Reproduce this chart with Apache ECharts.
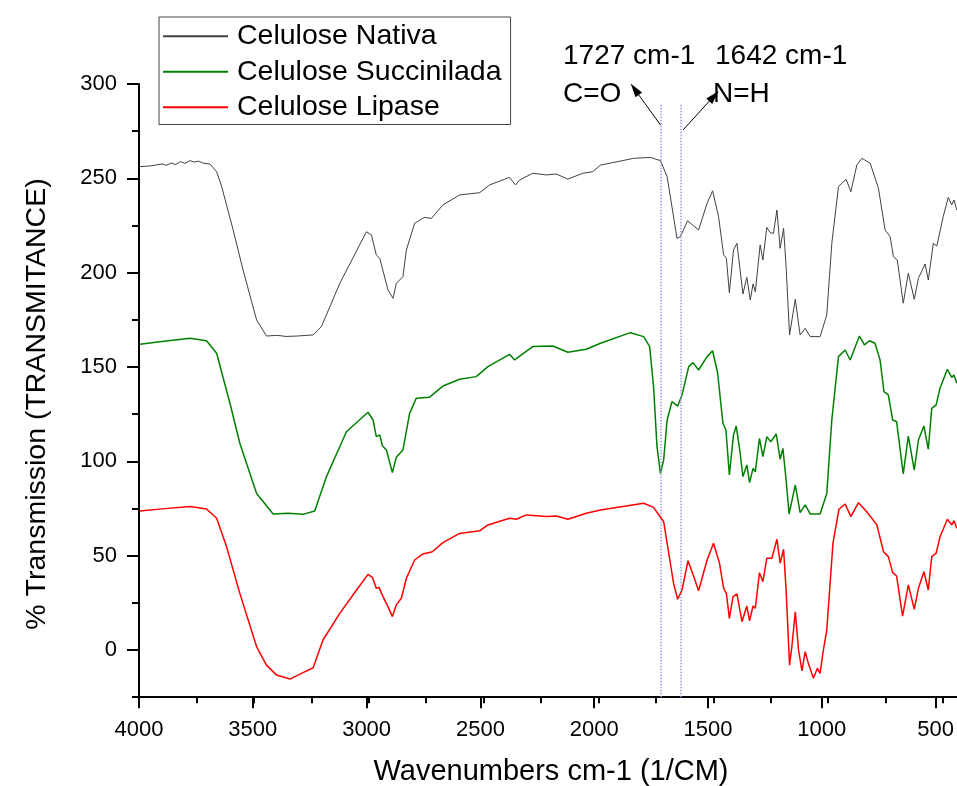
<!DOCTYPE html>
<html><head><meta charset="utf-8">
<script src="https://cdn.jsdelivr.net/npm/echarts@6/dist/echarts.min.js"></script>
<style>html,body{margin:0;padding:0;background:#fff}#c{width:957px;height:786px}</style>
</head><body><div id="c"></div>
<script>
const seriesNames = ['Celulose Nativa', 'Celulose Succinilada', 'Celulose Lipase'];
const seriesColors = ['#404040', '#008000', '#ff0000'];

const nativaX = [3996,3950,3900,3880,3860,3840,3820,3800,3778,3760,3740,3720,3691,3662,3640,3590,3547,3488,3445,3400,3360,3314,3242,3206,3126,3010,2988,2967,2952,2916,2894,2880,2851,2836,2800,2757,2727,2677,2604,2517,2474,2387,2361,2343,2286,2227,2184,2133,2068,2025,1991,1847,1774,1730,1701,1680,1658,1643,1612,1564,1527,1503,1477,1455,1443,1430,1412,1397,1371,1354,1339,1327,1317,1296,1284,1267,1252,1238,1223,1209,1194,1183,1168,1143,1122,1100,1078,1035,1006,984,955,922,901,875,853,817,781,752,730,716,699,673,651,625,607,578,564,542,527,499,477,462,452,440];
const nativaY = [256.2,256.6,257.6,256.9,258.1,257.3,258.9,257.9,259.4,258.6,259.1,258.0,257.6,253.5,245.6,222.6,201.4,174.9,166.4,166.8,166.2,166.4,167,171.4,194.3,221.7,220,209.4,207.6,190.8,186.4,194.3,197.9,212,226.2,229.3,228.8,235.9,241.2,242.4,246.5,250.5,246.5,249.1,252.7,251.8,252.3,249.6,252.7,253.5,257,260.6,261.1,259.4,250.9,235,218.2,219.1,227.5,222.6,236.8,243.4,229.7,209.4,207.6,189.4,212,215.6,188.7,197.5,185.5,194,189.9,214.7,206.7,224,221.2,220.8,233.2,212.9,223.5,203.2,167,185.9,167,170.5,166.1,166.1,177.6,215.6,245.6,249.5,242.9,257.1,260.6,258,244.7,222.6,219.1,208.5,206.7,183.8,199.7,185.9,197,204.6,196.1,215.6,214.1,229.7,239.9,235.9,238.5,233.2];

const succX = [3996,3900,3778,3706,3662,3604,3561,3488,3416,3350,3286,3235,3184,3097,3003,2981,2967,2952,2940,2923,2897,2880,2851,2822,2793,2735,2677,2604,2532,2481,2387,2365,2343,2286,2199,2133,2053,1991,1861,1803,1777,1760,1745,1730,1716,1701,1680,1655,1636,1607,1588,1564,1527,1503,1481,1458,1445,1430,1412,1400,1383,1371,1354,1342,1327,1317,1299,1284,1267,1250,1226,1209,1197,1183,1170,1143,1122,1100,1078,1035,1006,984,955,926,904,864,842,820,796,774,757,738,719,702,673,651,625,607,583,564,549,530,513,481,462,452,440];
const succY = [162,163.5,165.2,163.9,157.3,130.8,109.6,83,72.1,72.5,71.9,73.7,91.9,115.7,126,121.9,113.1,114,108.1,106,94,102.1,106,125.4,133.4,134,139.9,143.5,144.9,150.2,156.7,153.7,155.8,160.8,161.1,157.8,159.4,162.6,168.2,166.1,160.8,139.6,107.8,93.6,100.7,121.9,131.6,129.3,135.2,150.2,152.3,148.4,155.5,158.6,146.7,120.2,116.6,92.8,114,118.7,104.3,91.9,98.1,88.7,96.3,94.5,112.2,102.5,113.1,110.4,114.5,101.1,106.9,90.1,72.1,87.5,72.8,76.9,72.1,72.1,83,121.9,155.5,159,153.7,166.4,161.7,163.9,162.6,153.7,136.9,135.2,121.9,121,93.3,113.4,95.4,111.3,118.7,106.4,128.1,129.9,138.7,148.8,144.5,145.8,141.4];

const lipaseX = [3996,3900,3778,3706,3662,3619,3561,3488,3445,3401,3343,3286,3242,3199,3126,3053,3003,2984,2967,2955,2938,2916,2897,2880,2858,2836,2800,2764,2723,2677,2604,2517,2481,2387,2358,2314,2227,2184,2133,2053,1991,1803,1760,1716,1694,1673,1655,1636,1610,1585,1564,1527,1499,1473,1455,1443,1430,1414,1397,1375,1354,1342,1327,1317,1299,1284,1267,1245,1223,1209,1194,1183,1168,1158,1143,1129,1114,1100,1086,1064,1047,1035,1023,1006,979,953,926,901,868,832,788,759,738,719,702,676,651,625,607,583,564,549,530,513,481,462,452,440];
const lipaseY = [73.7,74.8,76,74.7,69.8,54.8,30,1.7,-8,-13.3,-15.4,-12,-9.4,5.3,19.4,31.8,40.1,38.5,32.7,33.2,28.3,23,17.7,23.9,27.4,38,47.7,50.9,52.1,56.9,61.8,63.2,66.3,69.8,69.3,71.6,70.7,71,69.3,72.5,74.2,77.8,75.6,68,51.3,35.4,26.9,31.8,47.3,38.9,31.4,47.7,56.6,46,32.7,30,16.8,28.3,29.7,15,23.3,15.5,23.3,22.1,41,36.2,48.6,48.6,58.7,46,53.4,31.8,-8,1.7,20.3,0,-11,-0.9,-7.1,-15,-9.7,-12.4,-1.7,10.6,56.6,74.6,77.4,70.7,78.1,73.3,66.3,52.1,49.5,41,39.2,18,34.5,21.6,32.7,41.5,31.8,49.5,51.3,60,69.3,66.3,68.5,64.5];

const peakWaves = [1727, 1642];
const peakLabels = ['1727 cm-1', '1642 cm-1'];
const groupLabels = ['C=O', 'N=H'];

const FONT = '"Liberation Sans", Arial, sans-serif';
const W = 957;
const L = 139, T = 84;
const PX = 804 / 3500;
const PY = 566 / 300;
const X_MIN = 4000 - (W - L) / PX;

function zip(xs, ys) { return xs.map((x, i) => [x, ys[i]]); }
const allData = [zip(nativaX, nativaY), zip(succX, succY), zip(lipaseX, lipaseY)];

const chart = echarts.init(document.getElementById('c'), null, {renderer: 'canvas'});

const series = seriesNames.map((name, i) => ({
  name: name, type: 'line', xAxisIndex: 0, yAxisIndex: 0,
  data: allData[i], showSymbol: false, symbol: 'none', smooth: false,
  lineStyle: {color: seriesColors[i], width: i === 0 ? 1 : 1.5},
  itemStyle: {color: seriesColors[i]},
  z: 3 + i
}));

series[0].markLine = {
  silent: true, symbol: ['none', 'none'], animation: false,
  label: {show: false},
  lineStyle: {type: 'dotted', color: '#9a9ae0', width: 1.5},
  data: peakWaves.map(w => [{coord: [w, 289]}, {coord: [w, -25]}])
};
series[1].markLine = {
  silent: true, symbol: ['none', 'triangle'], symbolSize: [8, 14], animation: false,
  label: {show: false},
  lineStyle: {type: 'solid', color: '#000', width: 1},
  itemStyle: {color: '#000'},
  data: [
    [{coord: [1730, 278.3]}, {coord: [1842, 297.2]}],
    [{coord: [1632, 275.6]}, {coord: [1497, 293.6]}]
  ]
};

const plainLabel = v => String(v);

const option = {
  animation: false,
  backgroundColor: '#fff',
  grid: [
    {left: L, top: T, right: 0, height: 325 * PY},
    {left: L, top: T, width: 3500 * PX, height: 325 * PY},
    {left: L, top: T, width: 3500 * PX, height: 300 * PY}
  ],
  xAxis: [
    {gridIndex: 0, type: 'value', min: X_MIN, max: 4000, inverse: true,
     axisLine: {onZero: false, lineStyle: {color: '#000', width: 2}},
     axisTick: {show: false}, axisLabel: {show: false}, splitLine: {show: false}},
    {gridIndex: 1, type: 'value', min: 500, max: 4000, interval: 250, inverse: true,
     axisLine: {show: false, onZero: false},
     axisTick: {length: 6, lineStyle: {color: '#000', width: 2}},
     axisLabel: {show: false}, splitLine: {show: false}},
    {gridIndex: 2, type: 'value', min: 500, max: 4000, interval: 500, inverse: true,
     offset: 25 * PY,
     axisLine: {show: false, onZero: false},
     axisTick: {length: 11, lineStyle: {color: '#000', width: 2}},
     axisLabel: {fontSize: 22, color: '#000', margin: 22, fontFamily: FONT, formatter: plainLabel, showMinLabel: true, showMaxLabel: true, hideOverlap: false},
     splitLine: {show: false}}
  ],
  yAxis: [
    {gridIndex: 0, type: 'value', min: -25, max: 300, interval: 25,
     axisLine: {onZero: false, lineStyle: {color: '#000', width: 2}},
     axisTick: {length: 7, lineStyle: {color: '#000', width: 2}},
     axisLabel: {show: false}, splitLine: {show: false}},
    {gridIndex: 1, type: 'value', min: -25, max: 300, interval: 25, show: false},
    {gridIndex: 2, type: 'value', min: 0, max: 300, interval: 50,
     axisLine: {show: false, onZero: false},
     axisTick: {length: 12, lineStyle: {color: '#000', width: 2}},
     axisLabel: {fontSize: 22, color: '#000', margin: 22, fontFamily: FONT, formatter: plainLabel},
     splitLine: {show: false}}
  ],
  legend: {
    orient: 'vertical', left: 159, top: 17, padding: [4, 9, 2, 4], itemGap: 5,
    itemWidth: 65, itemHeight: 2, icon: 'rect',
    borderColor: '#444', borderWidth: 1,
    textStyle: {fontSize: 28.5, fontFamily: FONT, color: '#000', lineHeight: 30.5, padding: [0, 0, 0, 4]},
    data: seriesNames, selectedMode: false
  },
  graphic: [
    {type: 'text', x: 563, y: 56, style: {text: peakLabels[0], font: '28px ' + FONT, fill: '#000', align: 'left', verticalAlign: 'middle'}},
    {type: 'text', x: 715, y: 56, style: {text: peakLabels[1], font: '28px ' + FONT, fill: '#000', align: 'left', verticalAlign: 'middle'}},
    {type: 'text', x: 563, y: 94, style: {text: groupLabels[0], font: '28px ' + FONT, fill: '#000', align: 'left', verticalAlign: 'middle'}},
    {type: 'text', x: 713, y: 94, style: {text: groupLabels[1], font: '28px ' + FONT, fill: '#000', align: 'left', verticalAlign: 'middle'}},
    {type: 'text', x: 551, y: 772, style: {text: 'Wavenumbers cm-1 (1/CM)', font: '29px ' + FONT, fill: '#000', align: 'center', verticalAlign: 'middle'}},
    {type: 'text', x: 37, y: 404, rotation: Math.PI / 2, style: {text: '% Transmission (TRANSMITANCE)', font: '28.5px ' + FONT, fill: '#000', align: 'center', verticalAlign: 'middle'}}
  ],
  series: series
};
chart.setOption(option);
</script>
</body></html>
